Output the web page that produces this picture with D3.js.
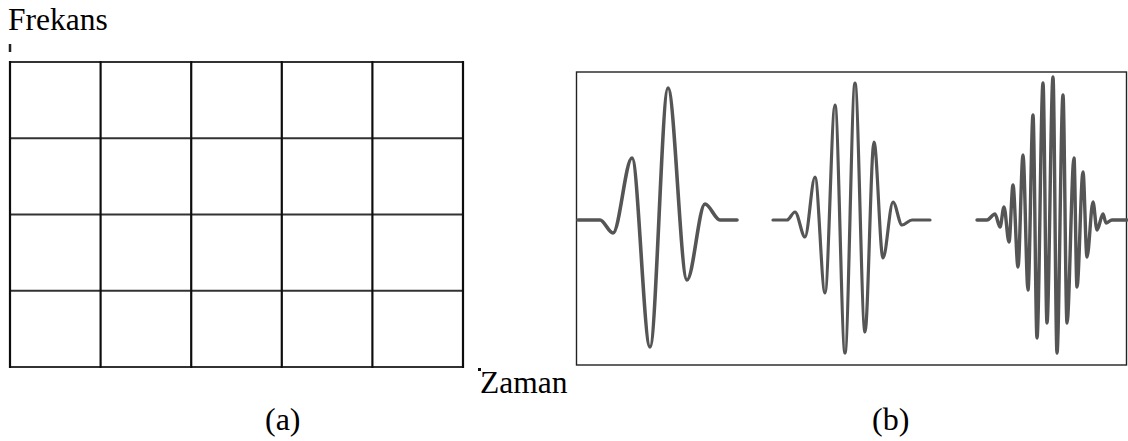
<!DOCTYPE html>
<html>
<head>
<meta charset="utf-8">
<script src="https://cdn.jsdelivr.net/npm/d3@7"></script>
<style>
  body { margin: 0; background: #fff; }
</style>
</head>
<body>
<script>
// grandezze svg
var width = 1128, height = 441;
var serif = "'Times New Roman', 'Liberation Serif', 'DejaVu Serif', serif";

// (a) griglia tempo-frequenza
var timeTicks = [0, 1, 2, 3, 4, 5];
var freqTicks = [0, 1, 2, 3, 4];

var wavelet1 = [[0.2,0],[2.4,0],[3.7,-0.13],[5.6,0.62],[7.4,-1.27],[9.2,1.32],[11.1,-0.60],[12.9,0.16],[14.4,0],[16.1,0]];
var wavelet2 = [[19.7,0],[21.1,0],[21.9,0.08],[22.9,-0.17],[23.9,0.43],[24.9,-0.73],[25.9,1.15],[26.9,-1.33],[27.9,1.37],[28.9,-1.12],[29.8,0.78],[30.7,-0.38],[31.7,0.18],[32.6,-0.05],[33.6,0],[35.4,0]];
var wavelet3 = [[40.1,0],[41.1,0],[41.9,0.06],[42.4,-0.07],[42.8,0.13],[43.3,-0.22],[43.7,0.35],[44.2,-0.47],[44.7,0.65],[45.2,-0.70],[45.7,1.05],[46.1,-1.18],[46.7,1.37],[47.1,-1.03],[47.7,1.43],[48.1,-1.33],[48.7,1.25],[49.1,-1.03],[49.8,0.62],[50.1,-0.67],[50.7,0.48],[51.1,-0.37],[51.7,0.18],[52.1,-0.10],[52.7,0.06],[53.0,-0.03],[53.6,0],[55.1,0]];
var wavelets = [wavelet1, wavelet2, wavelet3];

// etichette
var labels = { freq: "Frekans", time: "Zaman", a: "(a)", b: "(b)" };

var svg = d3.select("body").append("svg")
    .attr("width", width)
    .attr("height", height);

var defs = svg.append("defs");
defs.append("filter").attr("id", "soft")
    .attr("x", "-5%").attr("y", "-5%").attr("width", "110%").attr("height", "110%")
    .append("feGaussianBlur").attr("stdDeviation", 0.7);
defs.append("filter").attr("id", "softer")
    .attr("x", "-5%").attr("y", "-5%").attr("width", "110%").attr("height", "110%")
    .append("feGaussianBlur").attr("stdDeviation", 0.4);

// ---------- pannello (a) ----------
var x = d3.scaleLinear().domain([0, 5]).range([10, 463]);
var y = d3.scaleLinear().domain([0, 4]).range([367, 62]);

var grid = svg.append("g").attr("class", "grid").attr("filter", "url(#softer)");

grid.selectAll("line.h").data(freqTicks).enter().append("line")
    .attr("class", "h")
    .attr("x1", x(0)).attr("x2", x(5))
    .attr("y1", d => y(d)).attr("y2", d => y(d))
    .attr("stroke", "#333").attr("stroke-width", 2.2);

grid.selectAll("line.v").data(timeTicks).enter().append("line")
    .attr("class", "v")
    .attr("x1", d => x(d)).attr("x2", d => x(d))
    .attr("y1", y(4) - 1).attr("y2", y(0) + 1)
    .attr("stroke", "#111").attr("stroke-width", 2.2);

// resti delle frecce degli assi
grid.append("line")
    .attr("x1", x(0)).attr("x2", x(0))
    .attr("y1", y(4) - 18).attr("y2", y(4) - 10)
    .attr("stroke", "#222").attr("stroke-width", 2.5);
grid.append("rect")
    .attr("x", x(5) + 15).attr("y", y(0) + 1)
    .attr("width", 3).attr("height", 3).attr("fill", "#111");

function label(px, py, size, txt) {
    svg.append("text").attr("x", px).attr("y", py)
        .attr("font-family", serif)
        .attr("font-size", size)
        .attr("fill", "#000")
        .text(txt);
}
label(8, 30, 31.5, labels.freq);
label(480, 393, 31.5, labels.time);
label(265, 430, 32, labels.a);

// ---------- pannello (b) ----------
var xw = d3.scaleLinear().domain([0, 55.1]).range([576, 1127]);
var yw = d3.scaleLinear().domain([-1.5, 1.5]).range([370, 70]);

svg.append("rect")
    .attr("x", 576.5).attr("y", 72)
    .attr("width", 550).attr("height", 293)
    .attr("fill", "#fff").attr("stroke", "#222").attr("stroke-width", 1.4);

var line = d3.line()
    .x(d => xw(d[0]))
    .y(d => yw(d[1]))
    .curve(d3.curveMonotoneX);

svg.append("g").attr("filter", "url(#soft)")
    .selectAll("path").data(wavelets).enter().append("path")
    .attr("d", line)
    .attr("fill", "none")
    .attr("stroke", "#555")
    .attr("stroke-width", (d, i) => [3.6, 3.2, 3.4][i])
    .attr("stroke-linejoin", "round")
    .attr("stroke-linecap", "round");

label(872, 430, 32, labels.b);
</script>
</body>
</html>
